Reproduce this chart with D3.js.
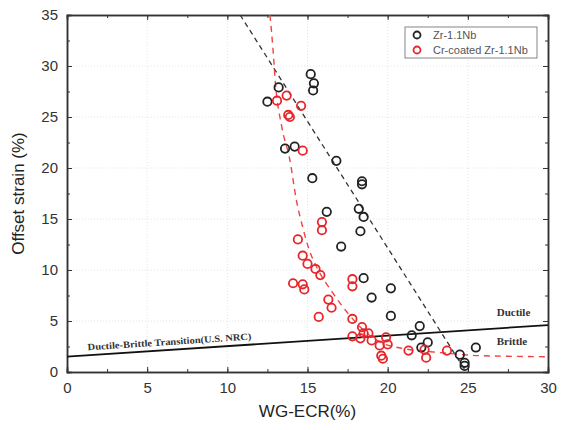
<!DOCTYPE html>
<html>
<head>
<meta charset="utf-8">
<script src="https://cdn.jsdelivr.net/npm/d3@7"></script>
<style>
body { margin: 0; background: #fff; }
.tick text { font-family: Arial, "Liberation Sans", sans-serif; font-size: 15px; fill: #333; }
.axisTitle { font-family: Arial, "Liberation Sans", sans-serif; font-size: 17px; fill: #222; }
.legendText { font-family: Arial, "Liberation Sans", sans-serif; font-size: 11px; fill: #555; }
.zone { font-family: "Liberation Serif", "DejaVu Serif", serif; font-weight: bold; fill: #333; }
</style>
</head>
<body>
<div id="chart"></div>
<script>
// data
var blackX = [15.2, 15.4, 15.35, 13.2, 12.5, 13.6, 14.2, 16.8, 15.3, 18.4, 18.4, 16.2, 18.2, 18.5, 18.3, 17.1,
              18.5, 20.2, 19.0, 20.2, 22.0, 21.5, 22.5, 22.1, 25.5, 24.5, 24.8, 24.8];
var blackY = [29.2, 28.3, 27.6, 27.9, 26.5, 21.9, 22.1, 20.7, 19.0, 18.7, 18.4, 15.7, 16.0, 15.2, 13.8, 12.3,
              9.2, 8.2, 7.3, 5.5, 4.5, 3.6, 2.9, 2.4, 2.4, 1.7, 0.9, 0.6];

var redX = [13.1, 13.7, 14.6, 13.8, 13.9, 14.7, 15.9, 15.9, 14.4, 14.7, 15.0, 15.5, 15.8, 14.1, 14.7, 14.8,
            17.8, 17.8, 16.3, 16.5, 15.7, 17.8, 18.4, 17.8, 18.3, 18.5, 18.8, 19.0, 19.5, 19.9, 20.0, 19.6,
            19.7, 21.3, 22.3, 22.4, 23.7];
var redY = [26.6, 27.1, 26.1, 25.2, 25.0, 21.7, 14.7, 13.9, 13.0, 11.4, 10.6, 10.1, 9.5, 8.7, 8.6, 8.1,
            9.1, 8.4, 7.1, 6.3, 5.4, 5.2, 4.4, 3.5, 3.3, 3.8, 3.8, 3.1, 2.6, 3.4, 2.7, 1.6,
            1.3, 2.1, 2.2, 1.4, 2.1];

// fitted trend lines
var blackFitX = [10.8, 24.9];
var blackFitY = [35, 0];
var redFitX = [12.66, 12.85, 13.0, 13.4, 13.9, 14.3, 14.7, 15.1, 15.6, 16.6, 17.5, 18.7, 19.7, 20.8, 23.3, 25.8, 30];
var redFitY = [35, 31.6, 28.3, 24.0, 20.8, 16.9, 14.2, 12.0, 10.2, 7.7, 5.8, 3.8, 2.8, 2.35, 1.9, 1.6, 1.5];

// ductile-brittle transition line
var transX = [0, 30];
var transY = [1.5, 4.6];

var xTicks = [0, 5, 10, 15, 20, 25, 30];
var yTicks = [0, 5, 10, 15, 20, 25, 30, 35];
var seriesNames = ["Zr-1.1Nb", "Cr-coated Zr-1.1Nb"];
var seriesColors = ["#222222", "#e8252a"];

var W = 563, H = 430;
var margin = {top: 15, right: 15, bottom: 58, left: 67};
var width = W - margin.left - margin.right;
var height = H - margin.top - margin.bottom;

var svg = d3.select("#chart").append("svg")
  .attr("width", W).attr("height", H);

var g = svg.append("g")
  .attr("transform", "translate(" + margin.left + "," + margin.top + ")");

var x = d3.scaleLinear().domain([0, 30]).range([0, width]);
var y = d3.scaleLinear().domain([0, 35]).range([height, 0]);

svg.append("defs").append("clipPath").attr("id", "clip")
  .append("rect").attr("width", width).attr("height", height);

// faint grid
g.selectAll(".gx").data(xTicks.slice(1, -1)).enter().append("line")
  .attr("x1", d => x(d)).attr("x2", d => x(d)).attr("y1", 0).attr("y2", height)
  .attr("stroke", "#ddd").attr("stroke-width", 0.8).attr("stroke-dasharray", "1,2");
g.selectAll(".gy").data(yTicks.slice(1, -1)).enter().append("line")
  .attr("y1", d => y(d)).attr("y2", d => y(d)).attr("x1", 0).attr("x2", width)
  .attr("stroke", "#ddd").attr("stroke-width", 0.8).attr("stroke-dasharray", "1,2");

// axes, ticks inward
var minorX = d3.range(0, 30.01, 2.5), minorY = d3.range(0, 35.01, 2.5);
function styleAxis(sel) {
  sel.select(".domain").attr("stroke", "#333").attr("stroke-width", 1.5);
  sel.selectAll(".tick line").attr("stroke", "#333").attr("stroke-width", 1);
}
g.append("g").attr("transform", "translate(0," + height + ")")
  .call(d3.axisBottom(x).tickValues(minorX).tickSize(-3).tickFormat("")).call(styleAxis);
g.append("g").attr("transform", "translate(0," + height + ")")
  .call(d3.axisBottom(x).tickValues(xTicks).tickSize(-5).tickPadding(10).tickFormat(d3.format("d"))).call(styleAxis);
g.append("g")
  .call(d3.axisTop(x).tickValues(minorX).tickSize(-3).tickFormat("")).call(styleAxis);
g.append("g")
  .call(d3.axisTop(x).tickValues(xTicks).tickSize(-5).tickFormat("")).call(styleAxis);
g.append("g")
  .call(d3.axisLeft(y).tickValues(minorY).tickSize(-3).tickFormat("")).call(styleAxis);
g.append("g")
  .call(d3.axisLeft(y).tickValues(yTicks).tickSize(-5).tickPadding(9).tickFormat(d3.format("d"))).call(styleAxis);
g.append("g").attr("transform", "translate(" + width + ",0)")
  .call(d3.axisRight(y).tickValues(minorY).tickSize(-3).tickFormat("")).call(styleAxis);
g.append("g").attr("transform", "translate(" + width + ",0)")
  .call(d3.axisRight(y).tickValues(yTicks).tickSize(-5).tickFormat("")).call(styleAxis);

// axis titles
svg.append("text").attr("class", "axisTitle")
  .attr("x", margin.left + width / 2).attr("y", 417)
  .attr("text-anchor", "middle").text("WG-ECR(%)");
svg.append("text").attr("class", "axisTitle")
  .attr("transform", "translate(24," + (margin.top + height / 2) + ") rotate(-90)")
  .attr("text-anchor", "middle").text("Offset strain (%)");

var plot = g.append("g").attr("clip-path", "url(#clip)");
var line = d3.line().x(d => x(d[0])).y(d => y(d[1]));

// transition line
var transPts = d3.zip(transX, transY);
plot.append("path").datum(transPts).attr("d", line)
  .attr("fill", "none").attr("stroke", "#111").attr("stroke-width", 1.8);

// trend lines
plot.append("path").datum(d3.zip(blackFitX, blackFitY)).attr("d", line)
  .attr("fill", "none").attr("stroke", "#333").attr("stroke-width", 1.3).attr("stroke-dasharray", "5,4");
plot.append("path").datum(d3.zip(redFitX, redFitY)).attr("d", line.curve(d3.curveMonotoneX))
  .attr("fill", "none").attr("stroke", "#ee4444").attr("stroke-width", 1.4).attr("stroke-dasharray", "6,5");

// points
plot.selectAll(".pb").data(d3.zip(blackX, blackY)).enter().append("circle")
  .attr("cx", d => x(d[0])).attr("cy", d => y(d[1])).attr("r", 4.2)
  .attr("fill", "none").attr("stroke", seriesColors[0]).attr("stroke-width", 1.8);
plot.selectAll(".pr").data(d3.zip(redX, redY)).enter().append("circle")
  .attr("cx", d => x(d[0])).attr("cy", d => y(d[1])).attr("r", 4.2)
  .attr("fill", "none").attr("stroke", seriesColors[1]).attr("stroke-width", 1.8);

// zone labels
var ang = Math.atan2(y(transY[1]) - y(transY[0]), x(transX[1]) - x(transX[0])) * 180 / Math.PI;
g.append("text").attr("class", "zone")
  .attr("transform", "translate(" + x(1.3) + "," + (y(1.5 + 3.1 * 1.3 / 30) - 5) + ") rotate(" + ang + ")")
  .attr("font-size", 9.5).attr("textLength", 164).attr("lengthAdjust", "spacingAndGlyphs")
  .text("Ductile-Brittle Transition(U.S. NRC)");
g.append("text").attr("class", "zone").attr("font-size", 11)
  .attr("x", x(26.8)).attr("y", y(5.5)).text("Ductile");
g.append("text").attr("class", "zone").attr("font-size", 11)
  .attr("x", x(26.8)).attr("y", y(2.6)).text("Brittle");

// legend
var lg = svg.append("g").attr("transform", "translate(405,27)");
lg.append("rect").attr("width", 132).attr("height", 31)
  .attr("fill", "#fff").attr("stroke", "#666").attr("stroke-width", 0.8);
seriesNames.forEach(function(name, i) {
  lg.append("circle").attr("cx", 12).attr("cy", 8 + i * 15).attr("r", 3.5)
    .attr("fill", "none").attr("stroke", seriesColors[i]).attr("stroke-width", 1.8);
  lg.append("text").attr("class", "legendText").attr("x", 28).attr("y", 12 + i * 15).text(name);
});
</script>
</body>
</html>
